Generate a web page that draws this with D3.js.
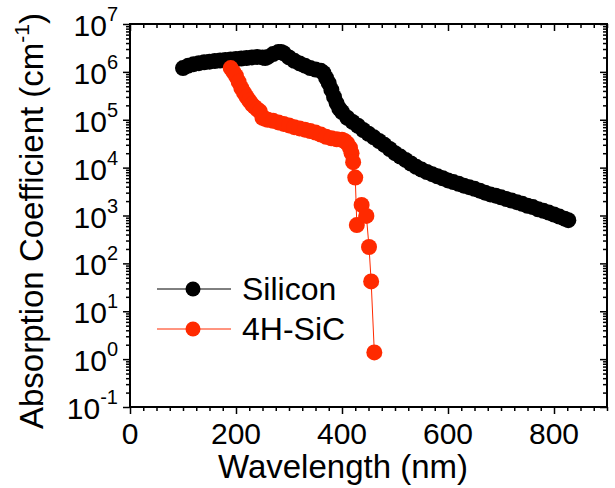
<!DOCTYPE html>
<html>
<head>
<meta charset="utf-8">
<script src="https://cdn.jsdelivr.net/npm/d3@7"></script>
<style>
  body { margin: 0; background: #fff; }
  text { font-family: "Liberation Sans", Arial, sans-serif; fill: #000; }
</style>
</head>
<body>
<div id="chart"></div>
<script>
// wavelength (nm) and absorption coefficient (cm^-1)
const siWl = [100,110,120,130,140,150,160,170,180,190,200,210,220,230,240,250,255,260,270,280,285,290,300,310,320,330,340,350,360,365,370,375,380,385,390,395,400,410,420,430,440,450,460,470,480,490,500,510,520,530,540,550,560,570,580,590,600,610,620,630,640,650,660,670,680,690,700,710,720,730,740,750,760,770,780,790,800,810,820,827];
const siAbs = [1.2e6,1.35e6,1.45e6,1.52e6,1.58e6,1.63e6,1.68e6,1.73e6,1.78e6,1.82e6,1.86e6,1.9e6,1.95e6,2.0e6,2.05e6,2.0e6,1.95e6,2.05e6,2.35e6,2.6e6,2.6e6,2.45e6,2.0e6,1.7e6,1.5e6,1.35e6,1.2e6,1.12e6,1.05e6,9.5e5,7.5e5,5.8e5,4.2e5,3.0e5,2.2e5,1.7e5,1.45e5,1.1e5,9e4,7.5e4,6.1e4,5.1e4,4.3e4,3.6e4,3e4,2.45e4,2.0e4,1.7e4,1.45e4,1.22e4,1.04e4,9.1e3,8.1e3,7.3e3,6.6e3,6e3,5.4e3,5e3,4.6e3,4.2e3,3.9e3,3.6e3,3.3e3,3.0e3,2.75e3,2.6e3,2.4e3,2.2e3,2.05e3,1.9e3,1.75e3,1.6e3,1.5e3,1.35e3,1.25e3,1.15e3,1.05e3,9.5e2,8.6e2,8e2];

const sicWl = [190,195,200,205,210,215,220,225,230,235,240,245,250,255,260,270,280,290,300,310,320,330,340,350,360,370,380,390,400,405,410,415,418,421,425,428,437,446,451,455,461];
const sicAbs = [1.2e6,1.0e6,8.2e5,6.2e5,4.6e5,3.7e5,3.0e5,2.5e5,2.1e5,1.85e5,1.65e5,1.5e5,1.1e5,1.05e5,1.0e5,9.5e4,8.8e4,8.2e4,7.6e4,7.0e4,6.6e4,6.2e4,5.8e4,5.4e4,4.9e4,4.4e4,4.1e4,3.9e4,3.8e4,3.6e4,3.2e4,2.6e4,2.0e4,1.3e4,6.2e3,6.3e2,1.66e3,9.8e2,2.2e2,42,1.38];

const xMajor = [0,200,400,600,800];
const yExp = [-1,0,1,2,3,4,5,6,7];
const seriesNames = ["Silicon", "4H-SiC"];
const seriesColors = ["#000000", "#ff2a00"];

const W = 615, H = 488;
const L = 130, R = 607, T = 24, B = 407;

const svg = d3.select("#chart").append("svg")
    .attr("width", W).attr("height", H);

const x = d3.scaleLinear().domain([0, 900]).range([L, R]);
const y = d3.scaleLog().domain([1e-1, 1e7]).range([B, T]);

const xMinor = d3.range(0, 901, 25).filter(v => v % 200 !== 0);
const yMajor = yExp.map(e => Math.pow(10, e));
const yMinor = [];
yExp.slice(0, -1).forEach(e => {
    for (let k = 2; k <= 9; k++) yMinor.push(k * Math.pow(10, e));
});

function tickGroup(axisFn, scale, values, size, tx, ty) {
    const g = svg.append("g")
        .attr("transform", `translate(${tx},${ty})`)
        .call(axisFn(scale).tickValues(values).tickSize(size).tickFormat(""));
    g.select(".domain").remove();
    g.selectAll("line").attr("stroke-width", 1.5);
    return g;
}

// bottom: outward
tickGroup(d3.axisBottom, x, xMinor, 4, 0, B);
tickGroup(d3.axisBottom, x, xMajor, 7, 0, B);
// top: inward
tickGroup(d3.axisBottom, x, xMinor, 4, 0, T);
tickGroup(d3.axisBottom, x, xMajor, 7, 0, T);
// left: outward
tickGroup(d3.axisLeft, y, yMinor, 4, L, 0);
tickGroup(d3.axisLeft, y, yMajor, 7, L, 0);
// right: inward
tickGroup(d3.axisLeft, y, yMinor, 4, R, 0);
tickGroup(d3.axisLeft, y, yMajor, 7, R, 0);

// frame
svg.append("rect")
    .attr("x", L).attr("y", T)
    .attr("width", R - L).attr("height", B - T)
    .attr("fill", "none").attr("stroke", "#000").attr("stroke-width", 2);

// x tick labels
svg.append("g").selectAll("text")
    .data(xMajor).join("text")
    .attr("x", d => x(d)).attr("y", 444)
    .attr("text-anchor", "middle")
    .attr("font-size", 30)
    .text(d => d);

// y tick labels 10^n
const yl = svg.append("g").selectAll("text")
    .data(yExp).join("text")
    .attr("x", 118).attr("y", d => y(Math.pow(10, d)) + 12)
    .attr("text-anchor", "end")
    .attr("font-size", 30);
yl.append("tspan").text("10");
yl.append("tspan").attr("font-size", 20).attr("dy", -15).text(d => d);

// axis titles
svg.append("text")
    .attr("x", 343).attr("y", 478)
    .attr("text-anchor", "middle")
    .attr("font-size", 33)
    .text("Wavelength (nm)");

const yt = svg.append("text")
    .attr("transform", "translate(43,221) rotate(-90)")
    .attr("text-anchor", "middle")
    .attr("font-size", 33);
yt.append("tspan").text("Absorption Coefficient (cm");
yt.append("tspan").attr("font-size", 21).attr("dy", -14).text("-1");
yt.append("tspan").attr("dy", 14).text(")");

// data
const line = d3.line().x(d => x(d[0])).y(d => y(d[1]));
const series = [
    d3.zip(siWl, siAbs),
    d3.zip(sicWl, sicAbs)
];

series.forEach((pts, i) => {
    const g = svg.append("g");
    g.append("path")
        .attr("d", line(pts))
        .attr("fill", "none")
        .attr("stroke", seriesColors[i])
        .attr("stroke-width", 1);
    g.selectAll("circle")
        .data(pts).join("circle")
        .attr("cx", d => x(d[0]))
        .attr("cy", d => y(d[1]))
        .attr("r", 8)
        .attr("fill", seriesColors[i]);
});

// legend
const leg = svg.append("g").selectAll("g")
    .data(seriesNames).join("g")
    .attr("transform", (d, i) => `translate(0,${289 + i * 40})`);
leg.append("line")
    .attr("x1", 157).attr("x2", 231)
    .attr("stroke", (d, i) => seriesColors[i])
    .attr("stroke-width", 1);
leg.append("circle")
    .attr("cx", 193).attr("r", 7.5)
    .attr("fill", (d, i) => seriesColors[i]);
leg.append("text")
    .attr("x", 242).attr("y", 11)
    .attr("font-size", 32)
    .text(d => d);
</script>
</body>
</html>
